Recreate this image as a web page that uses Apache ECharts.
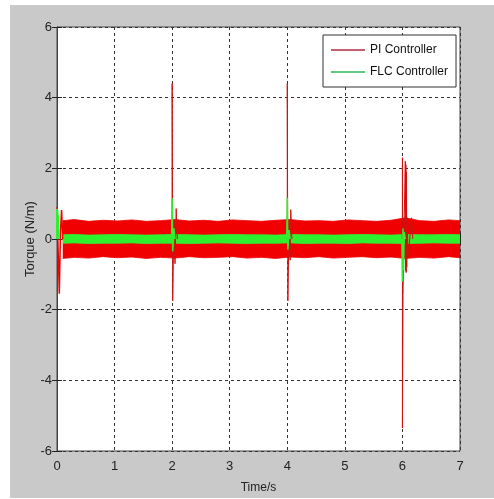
<!DOCTYPE html>
<html>
<head>
<meta charset="utf-8">
<script src="https://cdn.jsdelivr.net/npm/echarts@6/dist/echarts.min.js"></script>
<style>
  html, body { margin: 0; padding: 0; background: #fff; }
  #bg { position: absolute; left: 10px; top: 5px; width: 484px; height: 493px; background: #c9c9c9; }
  #chart { position: absolute; left: 0; top: 0; width: 494px; height: 499px; }
</style>
</head>
<body>
<div id="bg"></div>
<div id="chart"></div>
<script>
// steady-state ripple envelopes
const bandT    = [0.1, 0.3, 0.55, 0.8, 1.05, 1.3, 1.55, 1.8, 2.05, 2.3, 2.55, 2.8, 3.05, 3.3, 3.55, 3.8, 4.05, 4.3, 4.55, 4.8, 5.05, 5.3, 5.55, 5.8, 6.05, 6.3, 6.55, 6.8, 7.0]
const piUpper  = [0.52, 0.55, 0.5, 0.53, 0.51, 0.54, 0.5, 0.52, 0.55, 0.51, 0.53, 0.5, 0.54, 0.52, 0.5, 0.53, 0.55, 0.51, 0.52, 0.5, 0.54, 0.52, 0.5, 0.53, 0.6, 0.52, 0.5, 0.54, 0.52]
const piLower  = [-0.55, -0.52, -0.54, -0.5, -0.53, -0.51, -0.55, -0.52, -0.54, -0.5, -0.53, -0.52, -0.5, -0.54, -0.52, -0.55, -0.51, -0.53, -0.5, -0.54, -0.52, -0.5, -0.53, -0.51, -0.55, -0.52, -0.54, -0.5, -0.53]
const flcUpper = [0.12, 0.13, 0.11, 0.12, 0.13, 0.12, 0.11, 0.12, 0.13, 0.12, 0.11, 0.12, 0.13, 0.12, 0.12, 0.11, 0.13, 0.12, 0.12, 0.11, 0.12, 0.13, 0.12, 0.11, 0.13, 0.12, 0.12, 0.13, 0.12]
const flcLower = [-0.12, -0.11, -0.13, -0.12, -0.12, -0.11, -0.13, -0.12, -0.12, -0.13, -0.12, -0.11, -0.12, -0.13, -0.12, -0.12, -0.11, -0.13, -0.12, -0.12, -0.13, -0.11, -0.12, -0.12, -0.13, -0.12, -0.11, -0.12, -0.12]

// transients at the load steps
const piSpike0  = [[0, 0], [0, 0.9], [0.02, 0.85], [0.04, -1.55], [0.06, 0.2], [0.08, 0.82], [0.1, 0]]
const piSpike2  = [[2, 0], [2, 4.4], [2.01, -1.75], [2.03, 0.3], [2.05, -0.7], [2.07, 0.86], [2.09, 0]]
const piSpike4  = [[4, 0], [4, 4.4], [4.01, -1.75], [4.03, 0.3], [4.05, -0.6], [4.06, 0.83], [4.08, 0]]
const piSpike6  = [[6, 0], [6, 2.3], [6, -5.35], [6.01, -1.6], [6.03, 0.5], [6.05, 2.2], [6.055, -0.9], [6.06, 2.1], [6.065, -0.95], [6.07, 1.9], [6.075, -0.8], [6.08, 0.6], [6.1, -0.5], [6.16, 0.6], [6.18, 0]]
const flcSpike0 = [[0, 0], [0, 0.85], [0.015, 0.8], [0.02, 0.6], [0.03, 0]]
const flcSpike2 = [[1.99, 0], [2, 1.15], [2.01, -0.35], [2.03, 0.3], [2.05, 0]]
const flcSpike4 = [[3.99, 0], [4, 1.17], [4.01, -0.3], [4.03, 0.25], [4.05, 0]]
const flcSpike6 = [[5.99, 0], [6, -1.2], [6.01, 0.3], [6.02, -0.9], [6.03, 0.2], [6.05, 0]]

const xTicks = [0, 7, 1]
const yTicks = [-6, 6, 2]

const RED = '#f00000'
const RED_DARK = '#d01010'
const GREEN = '#2ef02e'
const FONT = '"Liberation Sans", Arial, sans-serif'

function band (name, upper, color) {
  return {
    name: name,
    type: 'line',
    data: bandT.map((t, i) => [t, upper[i]]),
    showSymbol: false,
    lineStyle: { color: color, width: 0.8 },
    areaStyle: { color: color, opacity: 1 },
    itemStyle: { color: color }
  }
}

function spike (name, data, color, width) {
  return {
    name: name,
    type: 'line',
    data: data,
    showSymbol: false,
    lineStyle: { color: color, width: width },
    itemStyle: { color: color }
  }
}

const gridLine = { show: true, lineStyle: { color: '#333', type: [3, 3], width: 1 } }
const frameAxis = {
  axisLine: { show: true, lineStyle: { color: '#444' } },
  axisTick: { show: true, inside: true, length: 5, lineStyle: { color: '#222' } }
}

echarts.init(document.getElementById('chart')).setOption({
  animation: false,
  backgroundColor: 'transparent',
  grid: {
    left: 57, top: 27, right: 34, bottom: 47,
    show: true, backgroundColor: '#fff', borderColor: '#444', borderWidth: 1
  },
  legend: {
    orient: 'vertical',
    left: 323,
    top: 35,
    padding: [8, 8, 8, 8],
    itemGap: 8,
    itemWidth: 34,
    itemHeight: 2,
    icon: 'rect',
    backgroundColor: '#fff',
    borderColor: '#333',
    borderWidth: 1,
    borderRadius: 0,
    textStyle: { fontFamily: FONT, fontSize: 12, color: '#111', lineHeight: 14 },
    data: [
      { name: 'PI Controller', itemStyle: { color: '#c86070' } },
      { name: 'FLC Controller', itemStyle: { color: '#60c880' } }
    ]
  },
  xAxis: [{
    type: 'value',
    min: xTicks[0], max: xTicks[1], interval: xTicks[2],
    name: 'Time/s',
    nameLocation: 'middle',
    nameGap: 31,
    nameTextStyle: { fontFamily: FONT, fontSize: 12, color: '#222' },
    axisLabel: { fontFamily: FONT, fontSize: 13, color: '#222', margin: 9 },
    splitLine: gridLine,
    ...frameAxis
  }, {
    type: 'value',
    position: 'top',
    min: xTicks[0], max: xTicks[1], interval: xTicks[2],
    axisLabel: { show: false },
    splitLine: { show: false },
    ...frameAxis
  }],
  yAxis: [{
    type: 'value',
    min: yTicks[0], max: yTicks[1], interval: yTicks[2],
    name: 'Torque (N/m)',
    nameLocation: 'middle',
    nameGap: 20,
    nameMoveOverlap: false,
    nameTextStyle: { fontFamily: FONT, fontSize: 13, color: '#222' },
    axisLabel: { fontFamily: FONT, fontSize: 13, color: '#222', margin: 5 },
    splitLine: gridLine,
    ...frameAxis
  }, {
    type: 'value',
    position: 'right',
    min: yTicks[0], max: yTicks[1], interval: yTicks[2],
    axisLabel: { show: false },
    splitLine: { show: false },
    ...frameAxis
  }],
  series: [
    band('PI Controller', piUpper, RED),
    band('PI Controller', piLower, RED),
    band('FLC Controller', flcUpper, GREEN),
    band('FLC Controller', flcLower, GREEN),
    spike('PI Controller', piSpike0, RED, 1.5),
    spike('PI Controller', piSpike2, RED_DARK, 1),
    spike('PI Controller', piSpike4, RED_DARK, 1),
    spike('PI Controller', piSpike6, RED_DARK, 1),
    spike('FLC Controller', flcSpike0, GREEN, 2),
    spike('FLC Controller', flcSpike2, GREEN, 1.5),
    spike('FLC Controller', flcSpike4, GREEN, 1.5),
    spike('FLC Controller', flcSpike6, GREEN, 1.5)
  ]
})
</script>
</body>
</html>
